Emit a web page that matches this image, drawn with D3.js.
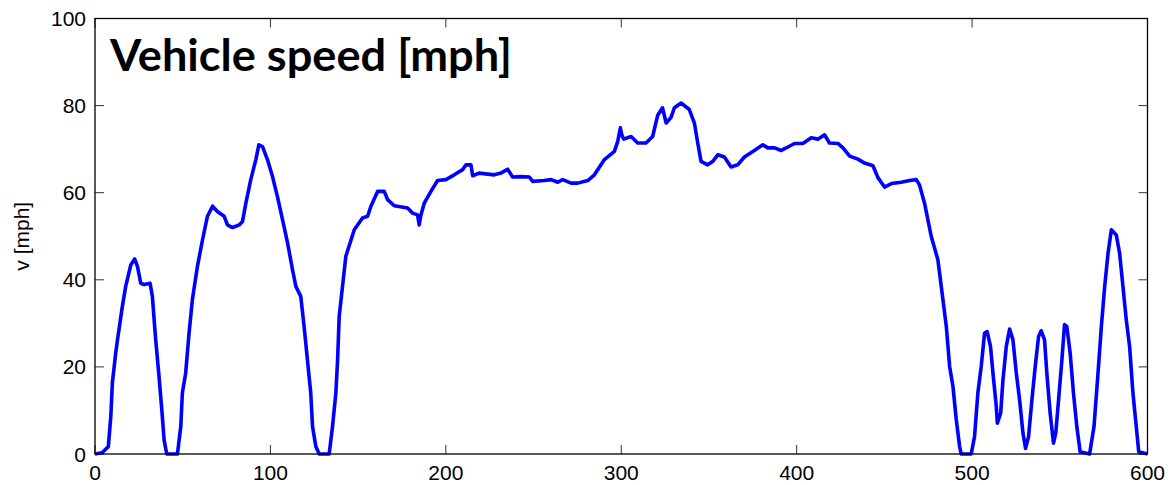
<!doctype html>
<html>
<head>
<meta charset="utf-8">
<title>Vehicle speed</title>
<style>
body { margin: 0; background: #fff; }
svg { display: block; }
</style>
<script src="https://cdn.jsdelivr.net/npm/d3@7"></script>
</head>
<body>
<script>
// time [s] and speed [mph]
var time = [0, 4, 7.6, 9, 9.9, 11.8, 12.8, 15.6, 17.5, 20.4, 22.6, 24.2, 26.1, 28, 31.4, 32.7, 34.6, 36.5, 38.1, 39.4, 40.9, 47,
  48.9, 49.8, 51.7, 53.6, 55.5, 58.4, 61.3, 64.1, 67, 69.8, 73.6, 75.5, 78.4, 82.2, 84.1, 86, 88.8, 91.7, 93.4, 95.5,
  98.3, 101.2, 104, 106.9, 109.8, 112.6, 114.5, 117.3, 119.2, 121.1, 123, 124, 125.9, 127.8, 133.5,
  135.4, 137.3, 138.3, 139.2, 141.1, 143, 147.8, 152.5, 155.4, 157.3, 161.1, 164.9, 166.8, 170.6, 178.2, 181.1, 183.9, 184.8, 185.8,
  187.7, 191.5, 195.3, 200, 204.8, 209.6, 211.5, 214.3, 215.3, 219, 227.6, 231.4, 235.2, 238.1, 242.8, 247.6, 249.5, 256.1, 260,
  263.8, 266.6, 271.4, 275.2, 280.9, 284.7, 290.4, 296.1, 298, 299.5, 300.3, 301.4, 305.6, 309.4, 314.1, 317.9, 320.8, 323.5,
  325.6, 328.4, 330.3, 334.1, 338.8, 341.7, 343.6, 345.5, 349.3, 352.2, 355, 358.8, 362.6, 366.4, 370.2, 375.9, 380.7, 383.6,
  387.4, 391.2, 395, 398.8, 403.5, 408.3, 412.1, 415.9, 418.7, 423.5, 426.4, 430.2, 434.9, 438.7, 443.5, 446.4, 450.1, 454,
  459.6, 464.4, 468.2, 470, 472.9, 476.7, 480.5, 483.4, 485.3, 487.2, 489.1, 491, 492.9, 493.8, 499.5,
  501.4, 503.3, 505.2, 507.1, 508.6, 510.5, 511.9, 513.8, 514.4, 516.3, 517.6, 519.5, 521.4, 523.3, 525.2, 527.1, 529, 530.5,
  532.2, 534.1, 536, 537.9, 539.4, 541.3, 542.6, 544.5, 546.4, 547.7, 549.3, 551.2, 552.7, 554, 555.9, 557.8, 559.7, 561.6, 567,
  569.5, 571.8, 573.7, 575.6, 577.5, 579.4, 582.2, 584.1, 586, 587.9, 589.8, 591.7, 593.6, 595, 600];
var speed = [0, 0.3, 1.7, 8.6, 16.3, 23.2, 26.2, 33.9, 38.5, 43.4, 44.8, 43.1, 39.2, 38.9, 39.2, 36.2, 26.2, 17.8, 10.1, 3.2, 0, 0,
  6.3, 14, 18.6, 27.7, 35.4, 43.1, 49.2, 54.6, 56.9, 55.7, 54.6, 52.6, 52, 52.6, 53.4, 57.6, 63, 67.6, 71, 70.6,
  67.6, 63.7, 59.1, 53.8, 48.4, 42.3, 38.5, 36.2, 29.3, 21.6, 14, 6.3, 1.7, 0, 0,
  6.3, 14, 21.6, 31.6, 38.5, 45.4, 51.5, 54.2, 54.6, 56.9, 60.3, 60.3, 58.4, 57, 56.5, 55.3, 54.9, 52.6, 54.9,
  57.6, 60.3, 62.8, 63, 64.1, 65.3, 66.4, 66.4, 63.9, 64.5, 64.1, 64.5, 65.4, 63.6, 63.7, 63.6, 62.6, 62.8, 63,
  62.4, 63, 62.2, 62.2, 62.8, 64.1, 67.6, 69.5, 71.8, 74.9, 73.3, 72.3, 72.9, 71.4, 71.4, 72.9, 77.8, 79.5,
  76, 77.3, 79.5, 80.6, 79.1, 76, 71.4, 67.2, 66.4, 67.2, 68.7, 68.2, 65.9, 66.4, 68.2, 69.7, 71, 70.3,
  70.3, 69.7, 70.5, 71.3, 71.3, 72.6, 72.3, 73.3, 71.4, 71.3, 70.3, 68.4, 67.7, 66.8, 66.2, 63.4, 61.3, 62.1,
  62.4, 62.8, 63, 61.8, 57.6, 50, 44.6, 35.4, 29.3, 20.1, 15.5, 7.8, 1.7, 0, 0,
  4, 14, 20.1, 27.7, 28.1, 24.7, 18.6, 10.9, 7.1, 9.4, 17, 24.7, 28.7, 26.2, 18.6, 12.4, 4.8, 1.3,
  4, 12.4, 20.1, 27, 28.3, 26.2, 18.6, 9.4, 2.5, 4.8, 12.4, 21.6, 29.7, 29.3, 23.2, 14, 6.3, 0.5, 0,
  6.3, 18.6, 29.3, 38.5, 46.1, 51.5, 50.3, 46.1, 38.5, 30.8, 24.7, 14, 6.3, 0.5, 0];
var xTicks = [0, 100, 200, 300, 400, 500, 600];
var yTicks = [0, 20, 40, 60, 80, 100];
var title = "Vehicle speed [mph]";
var yLabel = "v [mph]";

var W = 1170, H = 485;
var m = { left: 95, right: 1147.5, top: 18.5, bottom: 454 };

var svg = d3.select("body").append("svg")
    .attr("width", W)
    .attr("height", H);

var x = d3.scaleLinear().domain([0, 600]).range([m.left, m.right]);
var y = d3.scaleLinear().domain([0, 100]).range([m.bottom, m.top]);

var tickFont = "'Liberation Sans', Arial, sans-serif";

// tick marks, inward on all four sides
var tk = 9;
var g = svg.append("g").attr("stroke", "#333").attr("stroke-width", 1);
xTicks.forEach(function(d) {
    g.append("line").attr("x1", x(d)).attr("x2", x(d)).attr("y1", m.bottom).attr("y2", m.bottom - tk);
    g.append("line").attr("x1", x(d)).attr("x2", x(d)).attr("y1", m.top).attr("y2", m.top + tk);
});
yTicks.forEach(function(d) {
    g.append("line").attr("x1", m.left).attr("x2", m.left + tk).attr("y1", y(d)).attr("y2", y(d));
    g.append("line").attr("x1", m.right).attr("x2", m.right - tk).attr("y1", y(d)).attr("y2", y(d));
});

// tick labels
svg.append("g").selectAll("text").data(xTicks).enter().append("text")
    .attr("x", function(d) { return x(d); })
    .attr("y", 480)
    .attr("text-anchor", "middle")
    .style("font-family", tickFont)
    .style("font-size", "21px")
    .text(function(d) { return d; });

svg.append("g").selectAll("text").data(yTicks).enter().append("text")
    .attr("x", 86)
    .attr("y", function(d) { return y(d) + 7.5; })
    .attr("text-anchor", "end")
    .style("font-family", tickFont)
    .style("font-size", "21px")
    .text(function(d) { return d; });

svg.append("text")
    .attr("transform", "translate(29," + ((m.top + m.bottom) / 2) + ")rotate(-90)")
    .attr("text-anchor", "middle")
    .style("font-family", tickFont)
    .style("font-size", "21px")
    .text(yLabel);

// the speed trace
var line = d3.line()
    .x(function(d, i) { return x(time[i]); })
    .y(function(d) { return y(d); });

svg.append("path")
    .datum(speed)
    .attr("d", line)
    .attr("fill", "none")
    .attr("stroke", "#0000ff")
    .attr("stroke-width", 3.6)
    .attr("stroke-linejoin", "round");

// box
svg.append("rect")
    .attr("x", m.left).attr("y", m.top)
    .attr("width", m.right - m.left).attr("height", m.bottom - m.top)
    .attr("fill", "none")
    .attr("stroke", "#000")
    .attr("stroke-width", 1.3);

svg.append("text")
    .attr("x", 110)
    .attr("y", 71)
    .attr("textLength", 402)
    .attr("lengthAdjust", "spacingAndGlyphs")
    .style("font-family", "Lato, 'Open Sans', sans-serif")
    .style("font-weight", "bold")
    .style("font-size", "43px")
    .text(title);
</script>
</body>
</html>
